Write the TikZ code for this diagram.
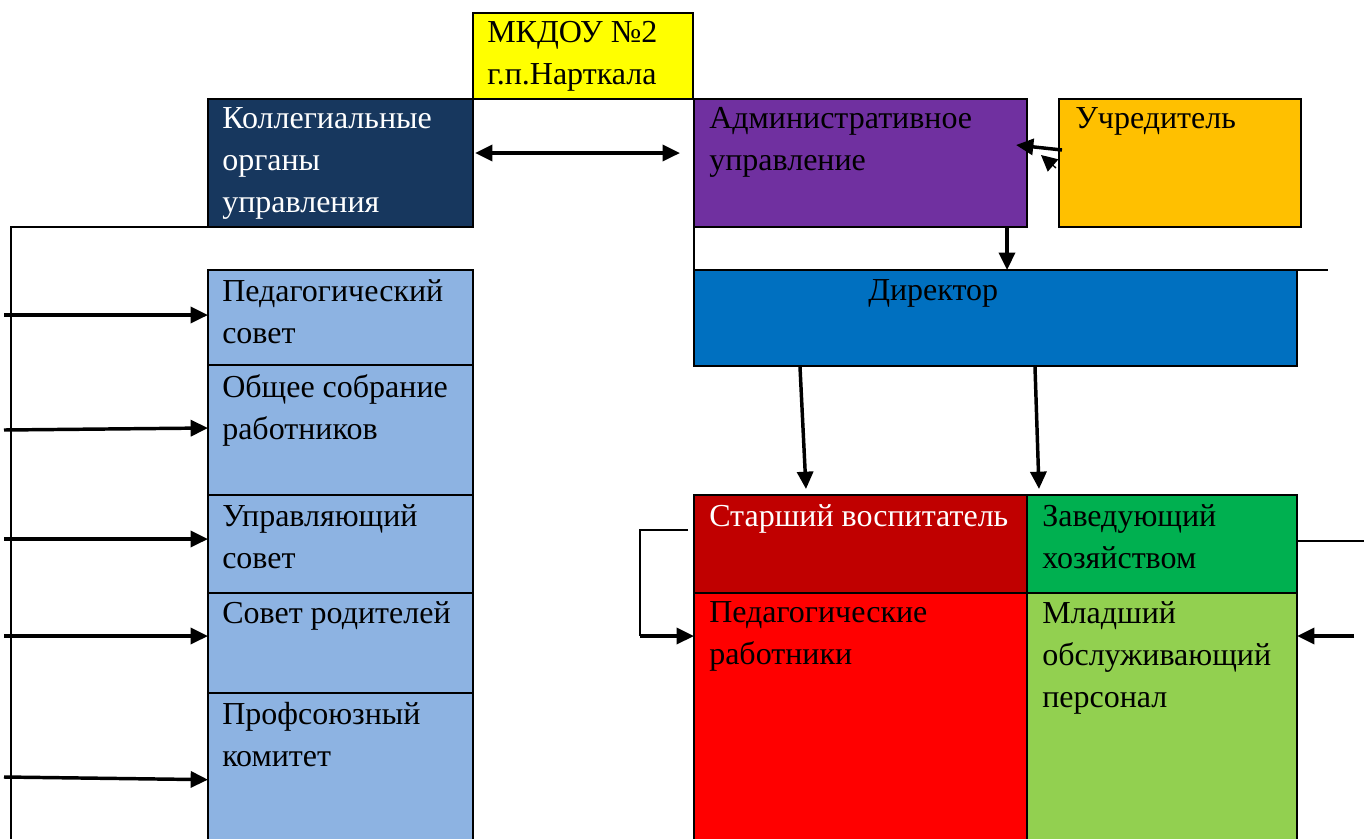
\documentclass[tikz,border=0pt]{standalone}
\usepackage{fontspec}
\setmainfont{Liberation Serif}
\usetikzlibrary{arrows.meta,fit}
\definecolor{cnavy}{HTML}{17375E}
\definecolor{cpurple}{HTML}{7030A0}
\definecolor{cgold}{HTML}{FFC000}
\definecolor{cblue}{HTML}{0070C0}
\definecolor{clblue}{HTML}{8DB3E2}
\definecolor{cdred}{HTML}{C00000}
\definecolor{cgreen}{HTML}{00B050}
\definecolor{cred}{HTML}{FF0000}
\definecolor{clgreen}{HTML}{92D050}
\definecolor{cyellow}{HTML}{FFFF00}
\tikzset{
  box/.style={draw=black, line width=1.8pt, inner sep=0pt, outer sep=0pt},
  txt/.style={anchor=north west, inner sep=0pt, align=left, font=\fontsize{24}{31.5}\selectfont},
  ln/.style={line width=1.8pt},
  arr/.style={line width=2.6pt, -{Triangle[length=13pt,width=12pt]}},
  darr/.style={line width=2.6pt, {Triangle[length=13pt,width=12pt]}-{Triangle[length=13pt,width=12pt]}},
}
\begin{document}
\begin{tikzpicture}[x=0.75pt,y=-0.75pt]
\useasboundingbox (0,0) rectangle (1364,839);
% boxes
\node[box, fill=cyellow, fit={(473,13)(693,99)}] (mkdou) {};
\node[box, fill=cnavy, fit={(208,99)(473,227)}] (koll) {};
\node[box, fill=cpurple, fit={(694,99)(1027,227)}] (adm) {};
\node[box, fill=cgold, fit={(1059,99)(1301,227)}] (uchr) {};
\node[box, fill=cblue, fit={(694,270)(1297,366)}] (dir) {};
\node[box, fill=clblue, fit={(208,270)(473,365)}] (ps) {};
\node[box, fill=clblue, fit={(208,365)(473,495)}] (os) {};
\node[box, fill=clblue, fit={(208,495)(473,593)}] (us) {};
\node[box, fill=clblue, fit={(208,593)(473,693)}] (sr) {};
\node[box, fill=clblue, fit={(208,693)(473,845)}] (pk) {};
\node[box, fill=cdred, fit={(694,495)(1027,593)}] (sv) {};
\node[box, fill=cgreen, fit={(1027,495)(1297,593)}] (zh) {};
\node[box, fill=cred, fit={(694,593)(1027,845)}] (pr) {};
\node[box, fill=clgreen, fit={(1027,593)(1297,845)}] (mop) {};
% texts
\node[txt] (tmkdou) at (487,21) {МКДОУ №2\\г.п.Нарткала};
\node[txt, text=white] (tkoll) at (222,107) {Коллегиальные\\органы\\управления};
\node[txt] (tadm) at (709,107) {Административное\\управление};
\node[txt] (tuchr) at (1075,107) {Учредитель};
\node[txt] (tdir) at (868,279) {Директор};
\node[txt] (tps) at (222,279) {Педагогический\\совет};
\node[txt] (tos) at (222,374) {Общее собрание\\работников};
\node[txt] (tus) at (222,504) {Управляющий\\совет};
\node[txt] (tsr) at (222,601) {Совет родителей};
\node[txt] (tpk) at (222,702) {Профсоюзный\\комитет};
\node[txt, text=white] (tsv) at (709,504) {Старший воспитатель};
\node[txt] (tzh) at (1042,504) {Заведующий\\хозяйством};
\node[txt] (tpr) at (709,601) {Педагогические\\работники};
\node[txt] (tmop) at (1042,601) {Младший\\обслуживающий\\персонал};
% left frame line
\coordinate (lbot) at (11,845);
\coordinate (ltop) at (11,227);
\draw[ln] (lbot) -- (ltop) -- (koll.south west);
% left arrows
\coordinate (a1) at (4,315);
\coordinate (a2) at (4,430);
\coordinate (a3) at (4,539);
\coordinate (a4) at (4,636);
\coordinate (a5) at (4,777);
\draw[arr] (a1) -- (ps.west |- a1);
\draw[arr] (a2) -- ([yshift=1.5pt]os.west |- a2);
\draw[arr] (a3) -- (us.west |- a3);
\draw[arr] (a4) -- (sr.west |- a4);
\draw[arr] (a5) -- ([yshift=-2pt]pk.west |- a5);
% double arrow
\coordinate (d1) at (475,153);
\coordinate (d2) at (680,153);
\draw[darr] (d1) -- (d2);
% vertical line adm -> dir (left)
\draw[ln] (adm.south west) -- (dir.north west);
% director top line extension
\coordinate (dext) at (1328,270);
\draw[ln] (dir.north east) -- (dext);
% uchreditel arrow
\coordinate (u1) at (1062,150);
\coordinate (u2) at (1016,145);
\draw[arr] (u1) -- (u2);
\coordinate (u3) at (1056,168);
\coordinate (u4) at (1041,155);
\draw[line width=1pt, -{Triangle[length=12pt,width=12pt]}] (u3) -- (u4);
% adm -> dir
\draw[arr] (adm.south -| 1007,0) -- (dir.north -| 1007,0);
% dir -> sv, zh
\coordinate (s1) at (800,367);
\coordinate (s2) at (806,489);
\coordinate (z1) at (1035,367);
\coordinate (z2) at (1039,489);
\draw[arr] (s1) -- (s2);
\draw[arr] (z1) -- (z2);
% bracket sv -> pr
\coordinate (b1) at (688,530);
\coordinate (b2) at (640,530);
\coordinate (b3) at (640,636);
\draw[ln] (b1) -- (b2) -- (b3);
\draw[arr] (b3) -- (pr.west |- b3);
% right lines
\coordinate (r1) at (1364,541);
\draw[ln] (zh.east |- r1) -- (r1);
\coordinate (r2) at (1354,636);
\draw[arr] (r2) -- (mop.east |- r2);
\end{tikzpicture}
\end{document}
